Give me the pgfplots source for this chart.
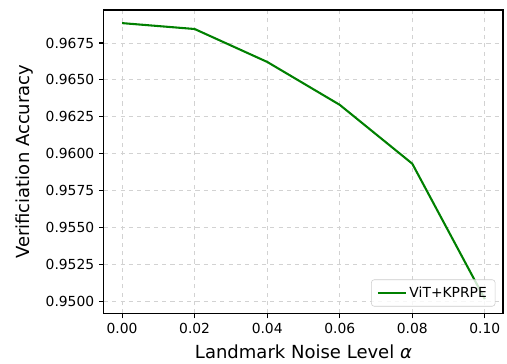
\documentclass[border=0pt]{standalone}
\usepackage{pgfplots}
\pgfplotsset{compat=1.18}
\usepackage{fontspec}
\setmainfont{DejaVu Sans}
\definecolor{mplgreen}{RGB}{0,128,0}
\begin{document}
\begin{tikzpicture}
\begin{axis}[
  scale only axis,
  width=288pt, height=219pt,
  xmin=-0.005, xmax=0.105,
  ymin=0.94917, ymax=0.96974,
  xtick={0,0.02,0.04,0.06,0.08,0.10},
  ytick={0.95,0.9525,0.955,0.9575,0.96,0.9625,0.965,0.9675},
  xticklabel style={/pgf/number format/.cd,fixed,fixed zerofill,precision=2},
  yticklabel style={/pgf/number format/.cd,fixed,fixed zerofill,precision=4},
  scaled x ticks=false, scaled y ticks=false,
  /pgf/number format/assume math mode=true,
  tick label style={font=\fontsize{10}{12}\selectfont},
  label style={font=\fontsize{13}{15}\selectfont},
  xlabel={Landmark Noise Level {\itshape α}},
  ylabel={Verificiation Accuracy},
  xlabel style={yshift=-1pt},
  ylabel style={yshift=2pt},
  tick align=outside, tick pos=left,
  major tick length=3.5pt,
  axis line style={line width=0.8pt},
  every tick/.style={black, line width=0.8pt},
  grid=major,
  major grid style={dashed, gray!35, line width=0.6pt},
  legend style={at={(1,0)}, anchor=south east, xshift=-5.5pt, yshift=5pt,
    font=\fontsize{10}{12}\selectfont, draw=gray!40, rounded corners=2pt, fill=white, fill opacity=0.8, text opacity=1, inner xsep=4pt, inner ysep=3pt},
  legend cell align=left,
  legend image code/.code={\draw[#1, line width=1.5pt] (0pt,0pt) -- (20pt,0pt);},
]
\addplot[mplgreen, line width=1.5pt] coordinates {
  (0.00,0.96885) (0.02,0.96845) (0.04,0.96622) (0.06,0.96331) (0.08,0.95932) (0.10,0.95014)
};
\addlegendentry{ViT+KPRPE}
\end{axis}
\path (current axis.south west) ++(-75pt,-35.4pt) coordinate (bbl);
\path (current axis.north east) ++(2.9pt,7.2pt) coordinate (btr);
\path (bbl) rectangle (btr);
\end{tikzpicture}
\end{document}
